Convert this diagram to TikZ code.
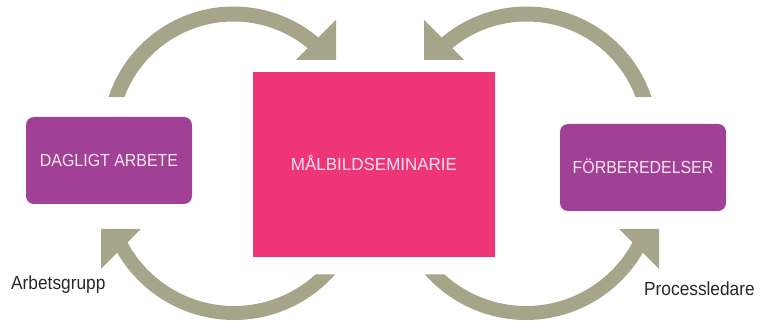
\documentclass[tikz,border=0pt]{standalone}
\usepackage{fontspec}
\setmainfont[FakeStretch=0.91]{Liberation Sans}
\newfontfamily\seminarfont[FakeStretch=0.97]{Liberation Sans}
\usetikzlibrary{calc}
\definecolor{bandcol}{RGB}{166,164,137}
\definecolor{seminar}{RGB}{238,53,119}
\definecolor{workbox}{RGB}{161,65,149}
\definecolor{boxtext}{RGB}{252,228,240}
\definecolor{labeltext}{RGB}{40,40,40}
\tikzset{
  stage/.style={fill=workbox, rounded corners=8pt, minimum width=166pt,
    minimum height=87pt, inner sep=0pt, text=boxtext,
    font=\fontsize{17.5}{20}\selectfont, text height=12.5pt, text depth=0pt},
  seminarbox/.style={fill=seminar, minimum width=242pt, minimum height=185pt,
    inner sep=0pt, text=boxtext, font=\seminarfont\fontsize{17.5}{20}\selectfont,
    text height=12.5pt, text depth=0pt},
  role/.style={text=labeltext, font=\fontsize{19}{22}\selectfont,
    inner sep=0pt, anchor=base west},
  band/.style={fill=bandcol}
}
\begin{document}
\begin{tikzpicture}[x=1pt,y=-1pt]
\useasboundingbox (0,0) rectangle (764,323);

% boxes
\node[stage] (dag) at (109,160.5) {DAGLIGT ARBETE};
\node[seminarbox] (mal) at (374,164.5) {MÅLBILDSEMINARIE};
\node[stage] (forb) at (643,167.5) {FÖRBEREDELSER};

% role labels
\node[role] (grp) at (11,289.5) {Arbetsgrupp};
\node[role] (led) at (644,296) {Processledare};

% centres of the curved arrows and their head corners
\coordinate (tlc) at (233.5,138);
\coordinate (trc) at (526.5,138);
\coordinate (blc) at (234,185);
\coordinate (brc) at (526,185);
\coordinate (tlh) at (336,60);
\coordinate (trh) at (424,60);
\coordinate (blh) at (101,229);
\coordinate (brh) at (659,229);

% daily work -> seminar
\fill[band] ($(tlc)+(198.17:131.5)$) arc[start angle=198.17, end angle=313, radius=131.5]
  -- ($(tlc)+(313:116.5)$) arc[start angle=313, end angle=200.6, radius=116.5] -- cycle;
\fill[band] (tlh) -- ++(-40,0) -- ++(40,-40) -- cycle;

% preparations -> seminar
\fill[band] ($(trc)+(341.83:131.5)$) arc[start angle=341.83, end angle=227, radius=131.5]
  -- ($(trc)+(227:116.5)$) arc[start angle=227, end angle=339.4, radius=116.5] -- cycle;
\fill[band] (trh) -- ++(40,0) -- ++(-40,-40) -- cycle;

% seminar -> daily work
\fill[band] ($(blc)+(41.5:135)$) arc[start angle=41.5, end angle=155, radius=135]
  -- ($(blc)+(155:121)$) arc[start angle=155, end angle=47.7, radius=121] -- cycle;
\fill[band] (blh) -- ++(40,0) -- ++(-40,40) -- cycle;

% seminar -> preparations
\fill[band] ($(brc)+(138.5:135)$) arc[start angle=138.5, end angle=25, radius=135]
  -- ($(brc)+(25:121)$) arc[start angle=25, end angle=132.3, radius=121] -- cycle;
\fill[band] (brh) -- ++(-40,0) -- ++(40,40) -- cycle;
\end{tikzpicture}
\end{document}
